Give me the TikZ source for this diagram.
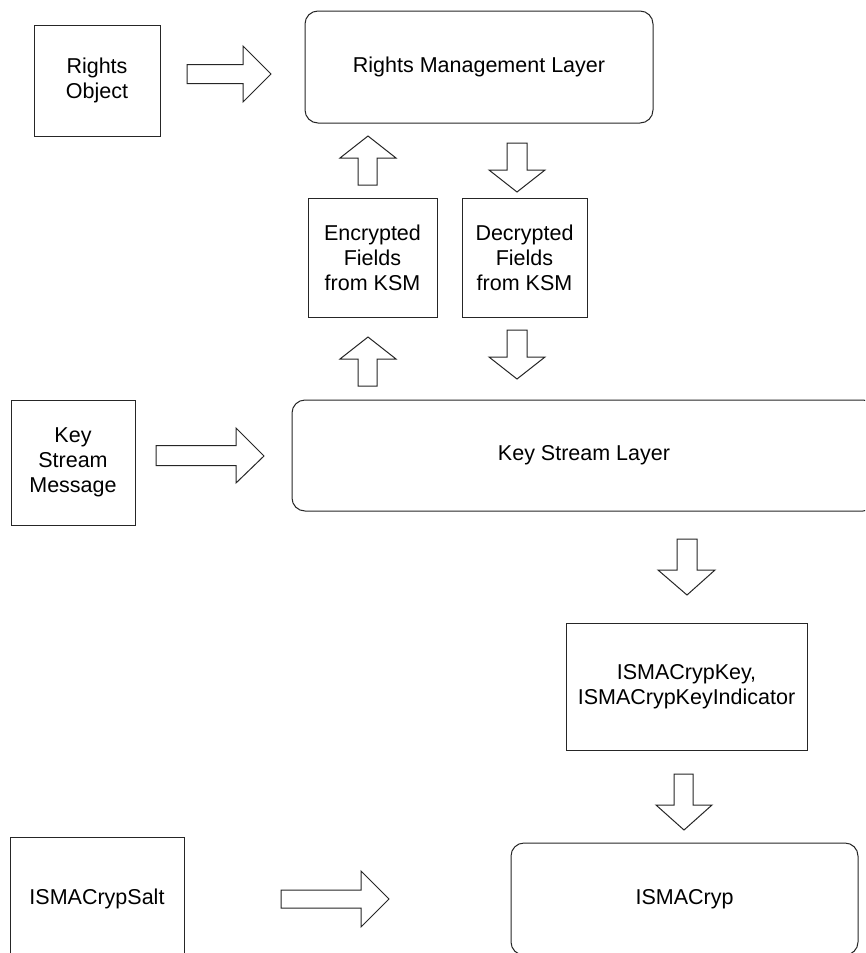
\documentclass[tikz,border=0pt]{standalone}
\usepackage{fontspec}
\setmainfont{Liberation Sans}
\begin{document}
\begin{tikzpicture}[x=1pt,y=-1pt,
  box/.style={draw=black!85,line width=1pt,rectangle,align=center,inner sep=0pt,
    font=\fontsize{21.5}{25}\selectfont},
  rbox/.style={box,rounded corners=13pt},
  barrow/.style={draw=black!85,line width=1pt,fill=white,line join=miter}]
\useasboundingbox (0,0) rectangle (865,953);
\clip (0,0) rectangle (865,953);
% nodes
\node[box,minimum width=126pt,minimum height=111pt] (ro) at (97,80.5) {Rights\\Object};
\node[rbox,minimum width=348pt,minimum height=112pt] (rml) at (479,67) {Rights Management Layer};
\node[box,minimum width=129pt,minimum height=119pt] (enc) at (372.5,257.5) {Encrypted\\Fields\\from KSM};
\node[box,minimum width=125pt,minimum height=119pt] (dec) at (524.5,257.5) {Decrypted\\Fields\\from KSM};
\node[box,minimum width=124pt,minimum height=125pt] (ksm) at (73,462.5) {Key\\Stream\\Message};
\node[rbox,minimum width=584pt,minimum height=111pt] (ksl) at (584,455.5) {Key Stream Layer};
\node[box,minimum width=241pt,minimum height=127pt] (key) at (686.5,686.5) {ISMACrypKey,\\ISMACrypKeyIndicator};
\node[box,minimum width=174pt,minimum height=124pt] (salt) at (97,899) {ISMACrypSalt};
\node[rbox,minimum width=347pt,minimum height=112pt] (ismacryp) at (684.5,899) {ISMACryp};
% block arrows
\draw[barrow] (187,64.5)--(243,64.5)--(243,46)--(271,74)--(243,102)--(243,83.5)--(187,83.5)--cycle;
\draw[barrow] (156,445.5)--(236,445.5)--(236,428)--(264,456)--(236,483)--(236,465.5)--(156,465.5)--cycle;
\draw[barrow] (281,890)--(361,890)--(361,871)--(389,899)--(361,927)--(361,908)--(281,908)--cycle;
\draw[barrow] (358,185)--(358,158)--(340,158)--(368,136)--(396,158)--(377,158)--(377,185)--cycle;
\draw[barrow] (358,386)--(358,359)--(340,359)--(368,337)--(396,359)--(377,359)--(377,386)--cycle;
\draw[barrow] (507,143)--(507,170)--(489,170)--(517,192)--(545,170)--(527,170)--(527,143)--cycle;
\draw[barrow] (507,330)--(507,357)--(489,357)--(517,379)--(545,357)--(527,357)--(527,330)--cycle;
\draw[barrow] (677,539)--(677,570)--(658,570)--(687,595)--(715,570)--(697,570)--(697,539)--cycle;
\draw[barrow] (674,774)--(674,805)--(656,805)--(684,830)--(712,805)--(693,805)--(693,774)--cycle;
\end{tikzpicture}
\end{document}
